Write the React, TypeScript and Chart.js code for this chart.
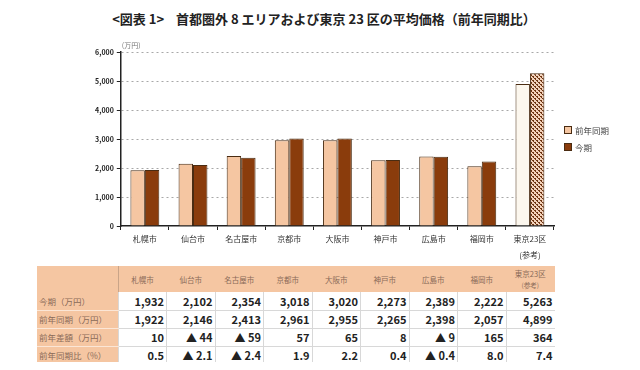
import React, { useEffect, useRef } from "react";
import { Chart, registerables } from "chart.js";

Chart.register(...registerables);

const categories = ["札幌市", "仙台市", "名古屋市", "京都市", "大阪市", "神戸市", "広島市", "福岡市", "東京23区"];
const xLabels: (string | string[])[] = ["札幌市", "仙台市", "名古屋市", "京都市", "大阪市", "神戸市", "広島市", "福岡市", ["東京23区", "(参考)"]];
const currentValues = [1932, 2102, 2354, 3018, 3020, 2273, 2389, 2222, 5263];
const prevValues = [1922, 2146, 2413, 2961, 2955, 2265, 2398, 2057, 4899];
const diffLabels = ["10", "▲ 44", "▲ 59", "57", "65", "8", "▲ 9", "165", "364"];
const ratioLabels = ["0.5", "▲ 2.1", "▲ 2.4", "1.9", "2.2", "0.4", "▲ 0.4", "8.0", "7.4"];
const rowLabels = ["今期（万円）", "前年同期（万円）", "前年差額（万円）", "前年同期比（%）"];
const seriesNames = ["前年同期", "今期"];

const FONT = "'Noto Sans CJK JP', 'Noto Sans', sans-serif";
const PEACH = "#f5c6a2";
const BROWN = "#8a3c0c";
const EDGE = "#4a2c12";

function makePattern(): CanvasPattern | string {
  const c = document.createElement("canvas");
  c.width = 4;
  c.height = 4;
  const g = c.getContext("2d");
  if (!g) return BROWN;
  g.fillStyle = "#f3d2bb";
  g.fillRect(0, 0, 4, 4);
  g.fillStyle = "#6e3512";
  g.fillRect(0, 0, 2, 1);
  g.fillRect(2, 2, 2, 1);
  g.fillRect(1, 1, 1, 1);
  g.fillRect(3, 3, 1, 1);
  const p = g.createPattern(c, "repeat");
  return p || BROWN;
}

const unitPlugin = {
  id: "unitLabel",
  afterDraw(chart: any) {
    const { ctx, chartArea } = chart;
    ctx.save();
    ctx.font = `7px ${FONT}`;
    ctx.fillStyle = "#777";
    ctx.textAlign = "left";
    ctx.textBaseline = "bottom";
    ctx.fillText("(万円)", chartArea.left + 1, chartArea.top - 3);
    ctx.restore();
  },
};

function BarChart() {
  const ref = useRef<HTMLCanvasElement | null>(null);
  useEffect(() => {
    if (!ref.current) return;
    const pattern = makePattern();
    const prevBg = prevValues.map((_, i) => (i === prevValues.length - 1 ? "#fcf7ee" : PEACH));
    const curBg = currentValues.map((_, i) => (i === currentValues.length - 1 ? pattern : BROWN));
    const chart = new Chart(ref.current, {
      type: "bar",
      data: {
        labels: xLabels as any,
        datasets: [
          {
            label: seriesNames[0],
            data: prevValues,
            backgroundColor: prevBg as any,
            borderColor: EDGE,
            borderWidth: 1,
            categoryPercentage: 0.6,
            barPercentage: 1,
          },
          {
            label: seriesNames[1],
            data: currentValues,
            backgroundColor: curBg as any,
            borderColor: EDGE,
            borderWidth: 1,
            categoryPercentage: 0.6,
            barPercentage: 1,
          },
        ],
      },
      options: {
        animation: false,
        responsive: false,
        maintainAspectRatio: false,
        layout: { padding: { left: 92, right: 86, top: 52, bottom: 0 } },
        plugins: {
          title: { display: false },
          tooltip: { enabled: false },
          legend: { display: false },
        },
        scales: {
          x: {
            grid: {
              display: true,
              drawOnChartArea: false,
              drawTicks: true,
              tickLength: 4,
              tickColor: "#222",
              offset: true,
            },
            border: { color: "#222", width: 1.5 },
            ticks: {
              color: "#333",
              font: { family: FONT, size: 8, lineHeight: 2 },
              padding: 1,
              maxRotation: 0,
              autoSkip: false,
            },
          },
          y: {
            min: 0,
            max: 6000,
            ticks: {
              stepSize: 1000,
              color: "#222",
              font: { family: FONT, size: 7, weight: "bold" },
              padding: 3,
              callback: (v: any) => Number(v).toLocaleString("en-US"),
            },
            grid: {
              color: (c: any) => (c.tick && c.tick.value === 0 ? "rgba(0,0,0,0)" : "#a8a8a8"),
              lineWidth: 1,
              drawTicks: true,
              tickLength: 4,
              tickColor: "#222",
              tickBorderDash: [],
            },
            border: { color: "#222", width: 1.5, dash: [2, 3] as any },
          },
        },
      },
      plugins: [unitPlugin],
    });
    return () => chart.destroy();
  }, []);
  return (
    <canvas
      ref={ref}
      width={640}
      height={264}
      style={{ position: "absolute", left: 0, top: 0, width: 640, height: 264 }}
    />
  );
}

function Legend() {
  const items = [
    { name: seriesNames[0], color: PEACH },
    { name: seriesNames[1], color: BROWN },
  ];
  return (
    <div style={{ position: "absolute", left: 564, top: 121, fontFamily: FONT }}>
      {items.map((it) => (
        <div key={it.name} style={{ display: "flex", alignItems: "center", height: 17 }}>
          <span
            style={{
              display: "inline-block",
              width: 6,
              height: 6,
              background: it.color,
              border: `1px solid ${EDGE}`,
              marginRight: 3,
            }}
          />
          <span style={{ fontSize: 8.5, color: "#444", lineHeight: "12px" }}>{it.name}</span>
        </div>
      ))}
    </div>
  );
}

function DataTable() {
  const firstW = 81;
  const colW = 48.5;
  const rows = [
    currentValues.map((v) => v.toLocaleString("en-US")),
    prevValues.map((v) => v.toLocaleString("en-US")),
    diffLabels,
    ratioLabels,
  ];
  const cellBorder = "1px solid #d8d8d8";
  return (
    <table
      style={{
        position: "absolute",
        left: 37,
        top: 266,
        borderCollapse: "collapse",
        tableLayout: "fixed",
        width: firstW + colW * 9,
        fontFamily: FONT,
      }}
    >
      <colgroup>
        <col style={{ width: firstW }} />
        {categories.map((c) => (
          <col key={c} style={{ width: colW }} />
        ))}
      </colgroup>
      <thead>
        <tr style={{ height: 26, background: PEACH }}>
          <th style={{ borderRight: "1px solid #c9a488", padding: 0 }}></th>
          {categories.map((c, i) => (
            <th
              key={c}
              style={{
                fontSize: 7.5,
                fontWeight: "normal",
                color: "#8a6a58",
                padding: 0,
                lineHeight: "11px",
                textAlign: "center",
              }}
            >
              {c}
              {i === categories.length - 1 ? (
                <>
                  <br />
                  <span style={{ fontSize: 6.5 }}>(参考)</span>
                </>
              ) : null}
            </th>
          ))}
        </tr>
      </thead>
      <tbody>
        {rows.map((r, ri) => (
          <tr key={ri} style={{ height: ri === 3 ? 16 : 18 }}>
            <td
              style={{
                background: PEACH,
                color: "#8a6a58",
                fontSize: 8.5,
                padding: "0 0 0 2px",
                whiteSpace: "nowrap",
                borderBottom: ri < 3 ? "1px solid #fbe6d6" : "none",
              }}
            >
              {rowLabels[ri]}
            </td>
            {r.map((v, ci) => (
              <td
                key={ci}
                style={{
                  textAlign: "right",
                  fontWeight: "bold",
                  fontSize: 11,
                  color: "#222",
                  padding: "0 2px 0 0",
                  borderBottom: ri < 3 ? cellBorder : "none",
                  borderLeft: cellBorder,
                  whiteSpace: "nowrap",
                }}
              >
                {v}
              </td>
            ))}
          </tr>
        ))}
      </tbody>
    </table>
  );
}

export default function App() {
  return (
    <div style={{ position: "relative", width: 640, height: 370, margin: -8, background: "#fff", overflow: "hidden" }}>
      <div
        style={{
          position: "absolute",
          left: 4,
          top: 9,
          width: 640,
          textAlign: "center",
          fontFamily: FONT,
          fontWeight: "bold",
          fontSize: 13,
          color: "#222",
          whiteSpace: "pre",
        }}
      >
        {"<図表 1>    首都圏外 8 エリアおよび東京 23 区の平均価格（前年同期比）"}
      </div>
      <BarChart />
      <Legend />
      <DataTable />
    </div>
  );
}
